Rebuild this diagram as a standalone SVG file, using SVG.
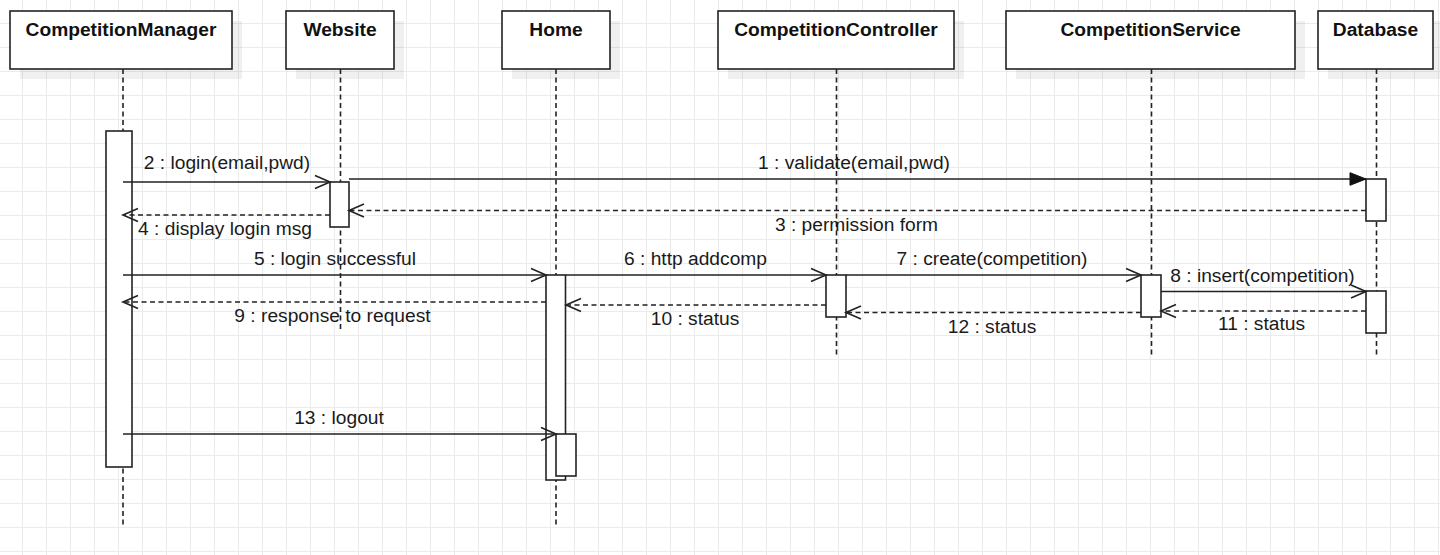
<svg xmlns="http://www.w3.org/2000/svg" width="1440" height="555" viewBox="0 0 1440 555">
<defs>
<pattern id="grid" x="-2" y="-1" width="24" height="24" patternUnits="userSpaceOnUse">
<path d="M0.5,0 V24 M0,0.5 H24" fill="none" stroke="#ebebeb" stroke-width="1"/>
</pattern>
<marker id="open" markerWidth="20" markerHeight="16" refX="16" refY="8" orient="auto" markerUnits="userSpaceOnUse" overflow="visible">
<path d="M1,1.6 L16,8 L1,14.4" fill="none" stroke="#222" stroke-width="1.6"/>
</marker>
<marker id="filled" markerWidth="20" markerHeight="16" refX="16" refY="8" orient="auto" markerUnits="userSpaceOnUse" overflow="visible">
<path d="M0,1.7 L16,8 L0,14.3 Z" fill="#111" stroke="#111" stroke-width="1"/>
</marker>
</defs>
<style>
.hdr{fill:#fff;stroke:#222;stroke-width:1.6}
.shd{fill:#000;opacity:0.06}
.life{fill:none;stroke:#222;stroke-width:1.6;stroke-dasharray:5 3.5}
.act{fill:#fff;stroke:#222;stroke-width:1.6}
.title{font-family:"Liberation Sans",Arial,sans-serif;font-size:19.2px;font-weight:bold;fill:#111;text-anchor:middle}
.msg{fill:none;stroke:#222;stroke-width:1.6}
.ret{fill:none;stroke:#222;stroke-width:1.6;stroke-dasharray:5 3.5}
.lbl{font-family:"Liberation Sans",Arial,sans-serif;font-size:19.2px;fill:#1a1a1a;text-anchor:middle}
</style>
<rect width="1440" height="555" fill="#fff"/>
<rect width="1440" height="555" fill="url(#grid)"/>

<g id="CompetitionManager">
<rect class="shd" x="20" y="21" width="222" height="58"/>
<line class="life" x1="123" y1="69" x2="123" y2="525"/>
<rect class="hdr" x="10" y="11" width="222" height="58"/>
<text class="title" x="121" y="36">CompetitionManager</text>
<rect class="act" x="106" y="131" width="26" height="336"/>
</g>

<g id="Website">
<rect class="shd" x="296" y="21" width="108" height="58"/>
<line class="life" x1="340.5" y1="69" x2="340.5" y2="331"/>
<rect class="hdr" x="286" y="11" width="108" height="58"/>
<text class="title" x="340" y="36">Website</text>
<rect class="act" x="330" y="182" width="19" height="45"/>
</g>

<g id="Home">
<rect class="shd" x="512" y="21" width="108" height="58"/>
<line class="life" x1="556" y1="69" x2="556" y2="525"/>
<rect class="hdr" x="502" y="11" width="108" height="58"/>
<text class="title" x="556" y="36">Home</text>
<rect class="act" x="546" y="275" width="19.5" height="205"/>
<rect class="act" x="556" y="434" width="20" height="42"/>
</g>

<g id="CompetitionController">
<rect class="shd" x="728" y="21" width="236" height="58"/>
<line class="life" x1="836.5" y1="69" x2="836.5" y2="355"/>
<rect class="hdr" x="718" y="11" width="236" height="58"/>
<text class="title" x="836" y="36">CompetitionController</text>
<rect class="act" x="826" y="275" width="20" height="42"/>
</g>

<g id="CompetitionService">
<rect class="shd" x="1016" y="21" width="289" height="58"/>
<line class="life" x1="1151.5" y1="69" x2="1151.5" y2="355"/>
<rect class="hdr" x="1006" y="11" width="289" height="58"/>
<text class="title" x="1150.5" y="36">CompetitionService</text>
<rect class="act" x="1141" y="275" width="20" height="42"/>
</g>

<g id="Database">
<rect class="shd" x="1328" y="21" width="115" height="58"/>
<line class="life" x1="1376.5" y1="69" x2="1376.5" y2="355"/>
<rect class="hdr" x="1318" y="11" width="115" height="58"/>
<text class="title" x="1375.5" y="36">Database</text>
<rect class="act" x="1366" y="179" width="20" height="42"/>
<rect class="act" x="1366" y="291" width="20" height="42"/>
</g>

<g id="connectors">
<path class="msg" d="M349,179 H1366" marker-end="url(#filled)"/>
<text class="lbl" x="854" y="169">1 : validate(email,pwd)</text>
<path class="msg" d="M123,182 H330" marker-end="url(#open)"/>
<text class="lbl" x="227" y="169">2 : login(email,pwd)</text>
<path class="ret" d="M1366,210.5 H349" marker-end="url(#open)"/>
<text class="lbl" x="856.5" y="231">3 : permission form</text>
<path class="ret" d="M330,215 H123" marker-end="url(#open)"/>
<text class="lbl" x="225" y="235">4 : display login msg</text>
<path class="msg" d="M123,275 H546" marker-end="url(#open)"/>
<text class="lbl" x="335" y="265">5 : login successful</text>
<path class="msg" d="M566,275 H826" marker-end="url(#open)"/>
<text class="lbl" x="695.5" y="265">6 : http addcomp</text>
<path class="msg" d="M846,275 H1141" marker-end="url(#open)"/>
<text class="lbl" x="992" y="265">7 : create(competition)</text>
<path class="msg" d="M1161,291.5 H1366" marker-end="url(#open)"/>
<text class="lbl" x="1262.5" y="281.5">8 : insert(competition)</text>
<path class="ret" d="M546,302 H123" marker-end="url(#open)"/>
<text class="lbl" x="332.5" y="322">9 : response to request</text>
<path class="ret" d="M826,305 H566" marker-end="url(#open)"/>
<text class="lbl" x="695" y="325">10 : status</text>
<path class="ret" d="M1366,311 H1161" marker-end="url(#open)"/>
<text class="lbl" x="1261.5" y="330">11 : status</text>
<path class="ret" d="M1141,312.5 H846" marker-end="url(#open)"/>
<text class="lbl" x="992" y="332.5">12 : status</text>
<path class="msg" d="M123,434 H556" marker-end="url(#open)"/>
<text class="lbl" x="339" y="424">13 : logout</text>
</g>
</svg>
